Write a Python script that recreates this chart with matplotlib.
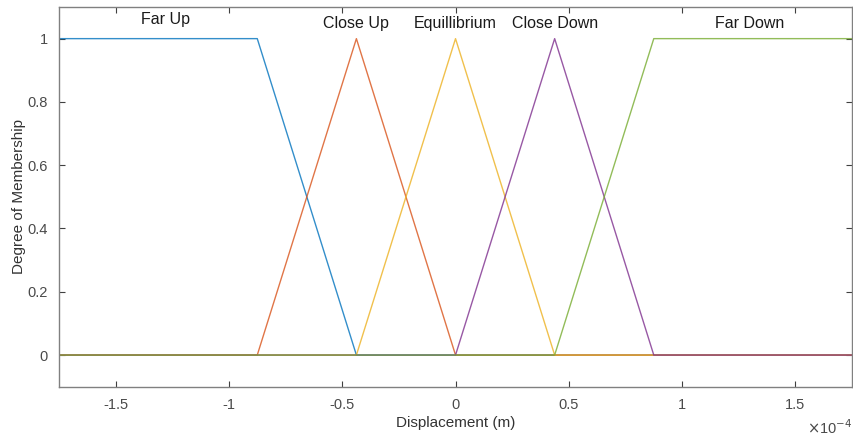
import numpy as np
import matplotlib.pyplot as plt
from matplotlib.ticker import FuncFormatter

plt.rcParams['font.family'] = ['Liberation Sans', 'DejaVu Sans']

# membership function parameters (m), MATLAB style
mf_names = ['Far Up', 'Close Up', 'Equillibrium', 'Close Down', 'Far Down']
mf_x = [
    [-1.75e-4, -0.875e-4, -0.4375e-4, 1.75e-4],
    [-1.75e-4, -0.875e-4, -0.4375e-4, 0.0, 1.75e-4],
    [-1.75e-4, -0.4375e-4, 0.0, 0.4375e-4, 1.75e-4],
    [-1.75e-4, 0.0, 0.4375e-4, 0.875e-4, 1.75e-4],
    [-1.75e-4, 0.4375e-4, 0.875e-4, 1.75e-4],
]
mf_y = [
    [1, 1, 0, 0],
    [0, 0, 1, 0, 0],
    [0, 0, 1, 0, 0],
    [0, 0, 1, 0, 0],
    [0, 0, 1, 1],
]
label_x = [-1.28e-4, -0.4375e-4, 0.0, 0.4375e-4, 1.30e-4]
label_y = [1.06, 1.047, 1.047, 1.047, 1.047]
colors = ['#0072BD', '#D95319', '#EDB120', '#7E2F8E', '#77AC30']

fig = plt.figure(figsize=(8.54, 4.37), dpi=100)
ax = fig.add_axes([0.0691, 0.1151, 0.9286, 0.8689])

for xs, ys, c in zip(mf_x, mf_y, colors):
    ax.plot(xs, ys, color=c, linewidth=1.0, alpha=0.8)

for name, lx, ly in zip(mf_names, label_x, label_y):
    ax.text(lx, ly, name, ha='center', va='center', fontsize=11.5, color='#1a1a1a')

ax.set_xlim(-1.75e-4, 1.75e-4)
ax.set_ylim(-0.1, 1.1)
ax.set_xticks(np.array([-1.5, -1, -0.5, 0, 0.5, 1, 1.5]) * 1e-4)
ax.set_yticks([0, 0.2, 0.4, 0.6, 0.8, 1])
ax.xaxis.set_major_formatter(FuncFormatter(lambda v, p: '%g' % round(v / 1e-4, 2)))
ax.yaxis.set_major_formatter(FuncFormatter(lambda v, p: '%g' % round(v, 2)))

for s in ax.spines.values():
    s.set_color('#808080')
    s.set_linewidth(1.0)
ax.tick_params(direction='in', top=True, right=True, length=4, width=0.8,
               color='#404040', labelsize=10.5, labelcolor='#4a4a4a', pad=8)

ax.set_xlabel('Displacement (m)', fontsize=11, color='#333333', labelpad=3)
ax.set_ylabel('Degree of Membership', fontsize=11, color='#333333', labelpad=1)
fig.text(0.971, 0.022, r'$\times$10$^{\mathrm{-4}}$', ha='center', va='center',
         fontsize=10.5, color='#4a4a4a')

fig.savefig('out.png', dpi=100)
